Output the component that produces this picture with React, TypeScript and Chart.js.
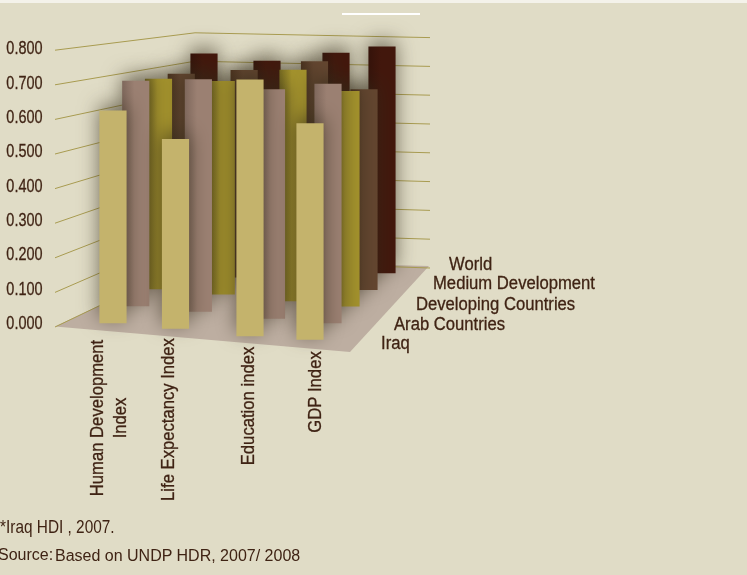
import React, { useEffect, useRef } from "react";
import { Chart, registerables } from "chart.js";

Chart.register(...registerables);

const categories = ["Human Development Index", "Life Expectancy Index", "Education index", "GDP Index"];
const seriesNames = ["Iraq", "Arab Countries", "Developing Countries", "Medium Development", "World"];
const iraq = [0.617, 0.55, 0.745, 0.628];
const arabCountries = [0.684, 0.705, 0.696, 0.726];
const developingCountries = [0.669, 0.678, 0.736, 0.685];
const mediumDevelopment = [0.662, 0.692, 0.742, 0.669];
const world = [0.708, 0.70, 0.75, 0.796];
const seriesValues = [iraq, arabCountries, developingCountries, mediumDevelopment, world];
const tickValues = [0, 0.1, 0.2, 0.3, 0.4, 0.5, 0.6, 0.7, 0.8];

const colors = [
  ["#c4b36c", "#c4b36c"],
  ["#7f685c", "#9b8072"],
  ["#766a20", "#a3922c"],
  ["#4f3420", "#644630"],
  ["#35130a", "#42170c"],
];

// Perspective geometry of the 3D scene
const ZERO_PX = 323;
const UNIT_PX = 343.75;
const H = 575;
const W = 747;
const BAR_W = 26.5;
const laneFrontX = [113, 175.5, 250, 310];
const laneBackX = [204, 267, 336, 382];
const laneFrontY = [323, 328.5, 336, 339.5];
const laneBackY = [255, 260, 266, 273];
const SCALE_FRONT = 343.75;
const SCALE_BACK = 284;
const toAxis = (py: number) => (ZERO_PX - py) / UNIT_PX;
const lerp = (a: number, b: number, t: number) => a + (b - a) * t;

const barX = (c: number, s: number) => lerp(laneFrontX[c], laneBackX[c], s / 4);
const barBase = (c: number, s: number) => lerp(laneFrontY[c], laneBackY[c], s / 4);
const barTop = (c: number, s: number, v: number) =>
  barBase(c, s) - v * lerp(SCALE_FRONT, SCALE_BACK, s / 4);

const wallLine = (h: number) => [
  { x: 55, y: toAxis(327 - h * 346) },
  { x: 195, y: toAxis(260 - h * 284) },
  { x: 430, y: toAxis(268 - h * 288) },
];

const floorCorners = [
  { x: 55, y: toAxis(326.5) },
  { x: 350, y: toAxis(352) },
  { x: 429, y: toAxis(266) },
  { x: 195, y: toAxis(260) },
];

const TEXT = "#3f2314";
const SANS = '"Liberation Sans", sans-serif';

function drawSquat(ctx: any, text: string, x: number, y: number, size: number, squeeze: number, align: string, rotate = false) {
  ctx.save();
  ctx.translate(x, y);
  if (rotate) ctx.rotate(-Math.PI / 2);
  ctx.scale(squeeze, 1);
  ctx.font = `${size}px ${SANS}`;
  ctx.fillStyle = TEXT;
  ctx.strokeStyle = TEXT;
  ctx.lineWidth = 0.3;
  ctx.textAlign = align;
  ctx.textBaseline = "middle";
  ctx.fillText(text, 0, 0);
  ctx.strokeText(text, 0, 0);
  ctx.restore();
}

const floorPlugin = {
  id: "floor",
  beforeDatasetsDraw(chart: any) {
    const { ctx, scales } = chart;
    ctx.save();
    ctx.beginPath();
    floorCorners.forEach((p, i) => {
      const px = scales.x.getPixelForValue(p.x);
      const py = scales.y.getPixelForValue(p.y);
      if (i === 0) ctx.moveTo(px, py);
      else ctx.lineTo(px, py);
    });
    ctx.closePath();
    ctx.fillStyle = "#bdaea1";
    ctx.fill();
    ctx.restore();
  },
};

const shadowPlugin = {
  id: "barShadow",
  beforeDatasetDraw(chart: any, args: any) {
    const ds = chart.data.datasets[args.index];
    if (ds.type === "bar") {
      const { ctx } = chart;
      ctx.save();
      ctx.shadowColor = "rgba(50,42,25,0.65)";
      ctx.shadowBlur = 20;
      ctx.shadowOffsetY = -5;
    }
  },
  afterDatasetDraw(chart: any, args: any) {
    const ds = chart.data.datasets[args.index];
    if (ds.type === "bar") chart.ctx.restore();
  },
};

const depthLabelPos = [
  [381, 344],
  [394, 325],
  [416, 305],
  [433, 284],
  [449, 265],
];
const categoryLabelPos = [
  { x: 98, lines: ["Human Development", "Index"], bottom: 418 },
  { x: 169, lines: [categories[1]], bottom: 419.5 },
  { x: 249, lines: [categories[2]], bottom: 406 },
  { x: 316, lines: [categories[3]], bottom: 392 },
];

const labelPlugin = {
  id: "sceneLabels",
  afterDraw(chart: any) {
    const { ctx } = chart;
    const yScale = chart.scales.y;
    yScale.ticks.forEach((t: any, i: number) => {
      drawSquat(ctx, String(t.label), 42.5, yScale.getPixelForTick(i) + 1, 19, 0.76, "right");
    });
    seriesNames.forEach((name, i) => {
      drawSquat(ctx, name, depthLabelPos[i][0], depthLabelPos[i][1], 18, 0.925, "left");
    });
    categoryLabelPos.forEach((l) => {
      l.lines.forEach((line, k) => {
        drawSquat(ctx, line, l.x + k * 23, l.bottom, 18, 0.925, "center", true);
      });
    });
  },
};

export default function App() {
  const ref = useRef<HTMLCanvasElement>(null);
  useEffect(() => {
    document.body.style.margin = "0";
    const gridSets = tickValues.map((h) => ({
      type: "line",
      data: wallLine(h),
      borderColor: "#a89b50",
      borderWidth: 1,
      pointRadius: 0,
      tension: 0,
      order: 10,
      fill: false,
    }));
    const barSets = seriesNames.map((name, s) => ({
      type: "bar",
      label: name,
      data: seriesValues[s].map((v, c) => ({
        x: barX(c, s),
        y: [toAxis(barBase(c, s)), toAxis(barTop(c, s, v))],
      })),
      backgroundColor: (ctx: any) => {
        const chart = ctx.chart;
        if (!chart.scales?.x || ctx.dataIndex === undefined) return colors[s][1];
        const cx = chart.scales.x.getPixelForValue(barX(ctx.dataIndex, s));
        if (!Number.isFinite(cx)) return colors[s][1];
        const g = chart.ctx.createLinearGradient(cx - BAR_W / 2, 0, cx + BAR_W / 2, 0);
        g.addColorStop(0, colors[s][0]);
        g.addColorStop(0.45, colors[s][1]);
        g.addColorStop(1, colors[s][1]);
        return g;
      },
      barThickness: BAR_W,
      grouped: false,
      borderSkipped: false,
      borderWidth: 0,
      order: s + 1,
    }));
    const chart = new Chart(ref.current!, {
      data: { datasets: [...barSets, ...gridSets] as any },
      options: {
        animation: false,
        responsive: false,
        layout: { padding: 0, autoPadding: false },
        plugins: { legend: { display: false }, tooltip: { enabled: false } },
        scales: {
          x: { type: "linear", display: false, offset: false, min: 50, max: W },
          y: {
            type: "linear",
            min: toAxis(H),
            max: toAxis(0),
            position: "left",
            afterBuildTicks: (scale: any) => {
              scale.ticks = tickValues.map((value) => ({ value }));
            },
            afterFit: (scale: any) => {
              scale.width = 50;
              scale.paddingTop = 0;
              scale.paddingBottom = 0;
            },
            grid: { display: false, drawTicks: false },
            border: { display: false },
            ticks: {
              autoSkip: false,
              display: false,
              callback: (v: any) => Number(v).toFixed(3),
            },
          },
        },
      } as any,
      plugins: [floorPlugin, shadowPlugin, labelPlugin],
    } as any);
    return () => chart.destroy();
  }, []);

  return (
    <div style={{ position: "relative", width: W, height: H, background: "#e0dcc6", overflow: "hidden" }}>
      <canvas ref={ref} width={W} height={H} style={{ display: "block", position: "absolute", left: 0, top: 0 }} />
      <div style={{ position: "absolute", left: 0, top: 0, width: W, height: 3, background: "#f4f2ea" }} />
      <div style={{ position: "absolute", left: 342, top: 13, width: 78, height: 2, background: "#ffffff" }} />
      <div style={{ position: "absolute", left: 0, top: 516, font: `19px ${SANS}`, color: TEXT, whiteSpace: "nowrap", transform: "scaleX(0.81)", transformOrigin: "left center" }}>
        *Iraq HDI , 2007.
      </div>
      <div style={{ position: "absolute", left: -2, top: 546, font: `16px ${SANS}`, color: TEXT, whiteSpace: "nowrap" }}>
        Source:
      </div>
      <div style={{ position: "absolute", left: 55, top: 547, font: `16px ${SANS}`, color: TEXT, whiteSpace: "nowrap" }}>
        Based on UNDP HDR, 2007/ 2008
      </div>
    </div>
  );
}
